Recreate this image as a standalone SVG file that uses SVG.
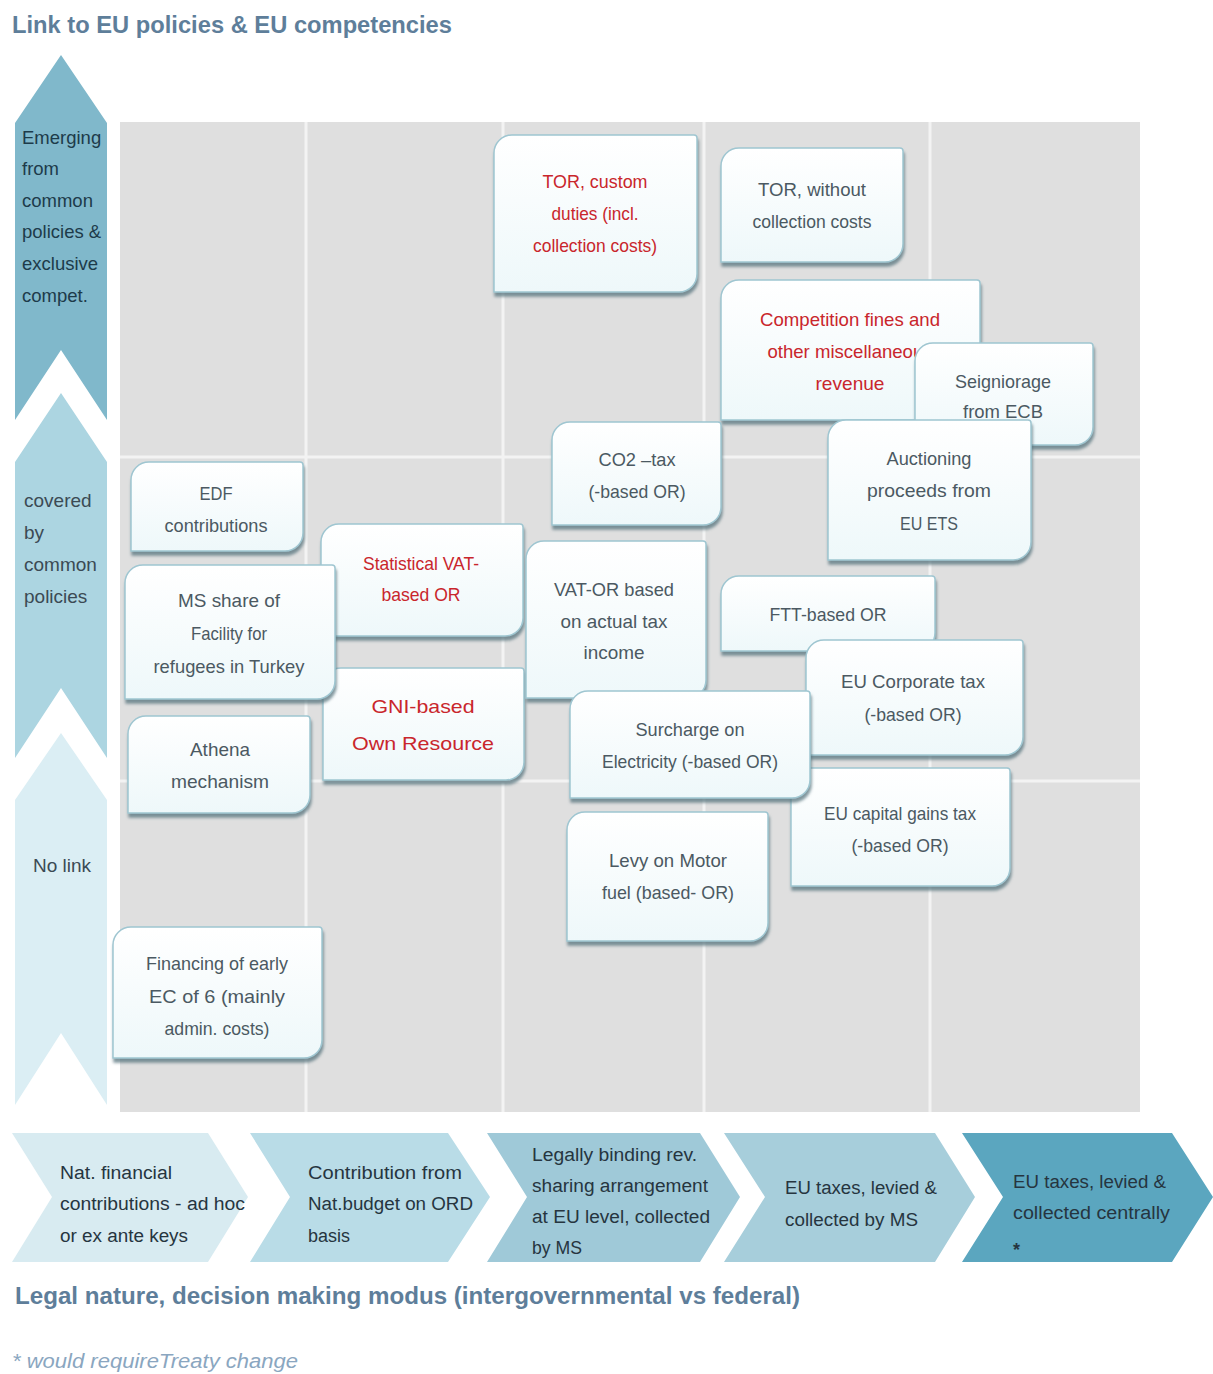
<svg xmlns="http://www.w3.org/2000/svg" width="1213" height="1374" viewBox="0 0 1213 1374">
<defs>
<linearGradient id="boxg" x1="0" y1="0" x2="0" y2="1">
<stop offset="0" stop-color="#ffffff"/>
<stop offset="1" stop-color="#eef8fa"/>
</linearGradient>
<filter id="sh" x="-10%" y="-10%" width="125%" height="130%">
<feDropShadow dx="1" dy="4" stdDeviation="1.5" flood-color="#56737d" flood-opacity="0.75"/>
</filter>
<style>
text{font-family:"Liberation Sans",Arial,sans-serif}
.nb{fill:url(#boxg);stroke:#9fc6d1;stroke-width:1.5;filter:url(#sh)}
.g{fill:#4b5962;font-size:19px;text-anchor:middle}
.r{fill:#c9262c;font-size:19px;text-anchor:middle}
.grid{stroke:#f3f3f3;stroke-width:3}
.cv{fill:#26353f;font-size:18px}
.ax1{fill:#1d3b4a;font-size:18.5px}
.ax2{fill:#3b4a54;font-size:19px}
.ttl{fill:#5e7e9a;font-size:24px;font-weight:bold}
</style>
</defs>
<rect width="1213" height="1374" fill="#ffffff"/>

<!-- title -->
<text class="ttl" x="12" y="33" textLength="440" lengthAdjust="spacingAndGlyphs">Link to EU policies &amp; EU competencies</text>

<!-- vertical axis arrows -->
<g id="axis-vertical">
<polygon points="61,55 107,123 107,420 61,350 15,420 15,123" fill="#80b8cb"/>
<polygon points="61,393 107,462 107,758 61,688 15,758 15,462" fill="#acd5e1"/>
<polygon points="61,733 107,800 107,1105 61,1033 15,1105 15,800" fill="#dbeef4"/>
<text class="ax1" x="22" y="144">Emerging</text>
<text class="ax1" x="22" y="175">from</text>
<text class="ax1" x="22" y="207">common</text>
<text class="ax1" x="22" y="238">policies &amp;</text>
<text class="ax1" x="22" y="270">exclusive</text>
<text class="ax1" x="22" y="302">compet.</text>
<text class="ax2" x="24" y="507">covered</text>
<text class="ax2" x="24" y="539">by</text>
<text class="ax2" x="24" y="571">common</text>
<text class="ax2" x="24" y="603">policies</text>
<text class="ax2" x="33" y="872">No link</text>
</g>

<!-- grid -->
<g id="grid">
<rect x="120" y="122" width="1020" height="990" fill="#dfdfdf"/>
<line class="grid" x1="306" y1="122" x2="306" y2="1112"/>
<line class="grid" x1="503" y1="122" x2="503" y2="1112"/>
<line class="grid" x1="704" y1="122" x2="704" y2="1112"/>
<line class="grid" x1="930" y1="122" x2="930" y2="1112"/>
<line class="grid" x1="120" y1="457" x2="1140" y2="457"/>
<line class="grid" x1="120" y1="781" x2="1140" y2="781"/>
</g>

<g id="connectors"/>

<!-- nodes -->
<g id="node-tor-custom">
<path class="nb" d="M512,135 H694 A3,3 0 0 1 697,138 V274 A18,18 0 0 1 679,292 H494 V153 A18,18 0 0 1 512,135 Z"/>
<text class="r" x="595" y="188" textLength="105" lengthAdjust="spacingAndGlyphs">TOR, custom</text>
<text class="r" x="595" y="220" textLength="87" lengthAdjust="spacingAndGlyphs">duties (incl.</text>
<text class="r" x="595" y="252" textLength="124" lengthAdjust="spacingAndGlyphs">collection costs)</text>
</g>
<g id="node-tor-without">
<path class="nb" d="M739,148 H900 A3,3 0 0 1 903,151 V244 A18,18 0 0 1 885,262 H721 V166 A18,18 0 0 1 739,148 Z"/>
<text class="g" x="812" y="196" textLength="108" lengthAdjust="spacingAndGlyphs">TOR, without</text>
<text class="g" x="812" y="228" textLength="119" lengthAdjust="spacingAndGlyphs">collection costs</text>
</g>
<g id="node-competition">
<path class="nb" d="M739,280 H977 A3,3 0 0 1 980,283 V402 A18,18 0 0 1 962,420 H721 V298 A18,18 0 0 1 739,280 Z"/>
<text class="r" x="850" y="326" font-size="20" textLength="180" lengthAdjust="spacingAndGlyphs">Competition fines and</text>
<text class="r" x="850" y="358" font-size="20" textLength="165" lengthAdjust="spacingAndGlyphs">other miscellaneous</text>
<text class="r" x="850" y="390" font-size="20" textLength="69" lengthAdjust="spacingAndGlyphs">revenue</text>
</g>
<g id="node-seigniorage">
<path class="nb" d="M933,343 H1090 A3,3 0 0 1 1093,346 V427 A18,18 0 0 1 1075,445 H915 V361 A18,18 0 0 1 933,343 Z"/>
<text class="g" x="1003" y="388" textLength="96" lengthAdjust="spacingAndGlyphs">Seigniorage</text>
<text class="g" x="1003" y="418" textLength="80" lengthAdjust="spacingAndGlyphs">from ECB</text>
</g>
<g id="node-co2">
<path class="nb" d="M570,422 H718 A3,3 0 0 1 721,425 V507 A18,18 0 0 1 703,525 H552 V440 A18,18 0 0 1 570,422 Z"/>
<text class="g" x="637" y="466" textLength="77" lengthAdjust="spacingAndGlyphs">CO2 –tax</text>
<text class="g" x="637" y="498" textLength="97" lengthAdjust="spacingAndGlyphs">(-based OR)</text>
</g>
<g id="node-auctioning">
<path class="nb" d="M846,420 H1028 A3,3 0 0 1 1031,423 V542 A18,18 0 0 1 1013,560 H828 V438 A18,18 0 0 1 846,420 Z"/>
<text class="g" x="929" y="465" textLength="85" lengthAdjust="spacingAndGlyphs">Auctioning</text>
<text class="g" x="929" y="497" textLength="124" lengthAdjust="spacingAndGlyphs">proceeds from</text>
<text class="g" x="929" y="530" textLength="58" lengthAdjust="spacingAndGlyphs">EU ETS</text>
</g>
<g id="node-edf">
<path class="nb" d="M149,462 H300 A3,3 0 0 1 303,465 V533 A18,18 0 0 1 285,551 H131 V480 A18,18 0 0 1 149,462 Z"/>
<text class="g" x="216" y="500" textLength="33" lengthAdjust="spacingAndGlyphs">EDF</text>
<text class="g" x="216" y="532" textLength="103" lengthAdjust="spacingAndGlyphs">contributions</text>
</g>
<g id="node-statistical-vat">
<path class="nb" d="M339,524 H520 A3,3 0 0 1 523,527 V618 A18,18 0 0 1 505,636 H321 V542 A18,18 0 0 1 339,524 Z"/>
<text class="r" x="421" y="570" textLength="116" lengthAdjust="spacingAndGlyphs">Statistical VAT-</text>
<text class="r" x="421" y="601" textLength="79" lengthAdjust="spacingAndGlyphs">based OR</text>
</g>
<g id="node-gni">
<path class="nb" d="M341,668 H521 A3,3 0 0 1 524,671 V762 A18,18 0 0 1 506,780 H323 V686 A18,18 0 0 1 341,668 Z"/>
<text class="r" x="423" y="713" font-size="24" textLength="103" lengthAdjust="spacingAndGlyphs">GNI-based</text>
<text class="r" x="423" y="750" font-size="24" textLength="142" lengthAdjust="spacingAndGlyphs">Own Resource</text>
</g>
<g id="node-ms-share">
<path class="nb" d="M143,565 H332 A3,3 0 0 1 335,568 V681 A18,18 0 0 1 317,699 H125 V583 A18,18 0 0 1 143,565 Z"/>
<text class="g" x="229" y="607" textLength="102" lengthAdjust="spacingAndGlyphs">MS share of</text>
<text class="g" x="229" y="640" textLength="76" lengthAdjust="spacingAndGlyphs">Facility for</text>
<text class="g" x="229" y="673" textLength="151" lengthAdjust="spacingAndGlyphs">refugees in Turkey</text>
</g>
<g id="node-athena">
<path class="nb" d="M146,716 H307 A3,3 0 0 1 310,719 V795 A18,18 0 0 1 292,813 H128 V734 A18,18 0 0 1 146,716 Z"/>
<text class="g" x="220" y="756" textLength="60" lengthAdjust="spacingAndGlyphs">Athena</text>
<text class="g" x="220" y="788" textLength="98" lengthAdjust="spacingAndGlyphs">mechanism</text>
</g>
<g id="node-vat-or">
<path class="nb" d="M544,541 H703 A3,3 0 0 1 706,544 V680 A18,18 0 0 1 688,698 H526 V559 A18,18 0 0 1 544,541 Z"/>
<text class="g" x="614" y="596" textLength="120" lengthAdjust="spacingAndGlyphs">VAT-OR based</text>
<text class="g" x="614" y="628" textLength="107" lengthAdjust="spacingAndGlyphs">on actual tax</text>
<text class="g" x="614" y="659" textLength="61" lengthAdjust="spacingAndGlyphs">income</text>
</g>
<g id="node-ftt">
<path class="nb" d="M739,576 H932 A3,3 0 0 1 935,579 V633 A18,18 0 0 1 917,651 H721 V594 A18,18 0 0 1 739,576 Z"/>
<text class="g" x="828" y="621" textLength="117" lengthAdjust="spacingAndGlyphs">FTT-based OR</text>
</g>
<g id="node-eu-corporate">
<path class="nb" d="M824,640 H1020 A3,3 0 0 1 1023,643 V737 A18,18 0 0 1 1005,755 H806 V658 A18,18 0 0 1 824,640 Z"/>
<text class="g" x="913" y="688" textLength="144" lengthAdjust="spacingAndGlyphs">EU Corporate tax</text>
<text class="g" x="913" y="721" textLength="97" lengthAdjust="spacingAndGlyphs">(-based OR)</text>
</g>
<g id="node-eu-capital">
<path class="nb" d="M809,768 H1007 A3,3 0 0 1 1010,771 V868 A18,18 0 0 1 992,886 H791 V786 A18,18 0 0 1 809,768 Z"/>
<text class="g" x="900" y="820" textLength="152" lengthAdjust="spacingAndGlyphs">EU capital gains tax</text>
<text class="g" x="900" y="852" textLength="97" lengthAdjust="spacingAndGlyphs">(-based OR)</text>
</g>
<g id="node-surcharge">
<path class="nb" d="M588,691 H807 A3,3 0 0 1 810,694 V780 A18,18 0 0 1 792,798 H570 V709 A18,18 0 0 1 588,691 Z"/>
<text class="g" x="690" y="736" textLength="109" lengthAdjust="spacingAndGlyphs">Surcharge on</text>
<text class="g" x="690" y="768" textLength="176" lengthAdjust="spacingAndGlyphs">Electricity (-based OR)</text>
</g>
<g id="node-levy">
<path class="nb" d="M585,812 H765 A3,3 0 0 1 768,815 V923 A18,18 0 0 1 750,941 H567 V830 A18,18 0 0 1 585,812 Z"/>
<text class="g" x="668" y="867" textLength="118" lengthAdjust="spacingAndGlyphs">Levy on Motor</text>
<text class="g" x="668" y="899" textLength="132" lengthAdjust="spacingAndGlyphs">fuel (based- OR)</text>
</g>
<g id="node-financing">
<path class="nb" d="M131,927 H319 A3,3 0 0 1 322,930 V1040 A18,18 0 0 1 304,1058 H113 V945 A18,18 0 0 1 131,927 Z"/>
<text class="g" x="217" y="970" textLength="142" lengthAdjust="spacingAndGlyphs">Financing of early</text>
<text class="g" x="217" y="1003" textLength="136" lengthAdjust="spacingAndGlyphs">EC of 6  (mainly</text>
<text class="g" x="217" y="1035" textLength="105" lengthAdjust="spacingAndGlyphs">admin. costs)</text>
</g>

<!-- horizontal axis chevrons -->
<g id="axis-horizontal">
<polygon points="12,1133 208,1133 248,1197 208,1262 12,1262 52,1197" fill="#d8ebf1"/>
<polygon points="250,1133 448,1133 490,1197 448,1262 250,1262 290,1197" fill="#b9dce7"/>
<polygon points="487,1133 700,1133 740,1197 700,1262 487,1262 527,1197" fill="#9fc9d8"/>
<polygon points="724,1133 935,1133 975,1197 935,1262 724,1262 765,1197" fill="#a7cedb"/>
<polygon points="962,1133 1172,1133 1213,1197 1172,1262 962,1262 1003,1197" fill="#5ba6bf"/>
<text class="cv" x="60" y="1179" textLength="112" lengthAdjust="spacingAndGlyphs">Nat. financial</text>
<text class="cv" x="60" y="1210" textLength="185" lengthAdjust="spacingAndGlyphs">contributions - ad hoc</text>
<text class="cv" x="60" y="1242" textLength="128" lengthAdjust="spacingAndGlyphs">or ex ante keys</text>
<text class="cv" x="308" y="1179" textLength="154" lengthAdjust="spacingAndGlyphs">Contribution from</text>
<text class="cv" x="308" y="1210" textLength="165" lengthAdjust="spacingAndGlyphs">Nat.budget on ORD</text>
<text class="cv" x="308" y="1242" textLength="42" lengthAdjust="spacingAndGlyphs">basis</text>
<text class="cv" x="532" y="1161" textLength="165" lengthAdjust="spacingAndGlyphs">Legally binding rev.</text>
<text class="cv" x="532" y="1192" textLength="176" lengthAdjust="spacingAndGlyphs">sharing arrangement</text>
<text class="cv" x="532" y="1223" textLength="178" lengthAdjust="spacingAndGlyphs">at EU level, collected</text>
<text class="cv" x="532" y="1254" textLength="50" lengthAdjust="spacingAndGlyphs">by MS</text>
<text class="cv" x="785" y="1194" textLength="152" lengthAdjust="spacingAndGlyphs">EU taxes, levied &amp;</text>
<text class="cv" x="785" y="1226" textLength="133" lengthAdjust="spacingAndGlyphs">collected by MS</text>
<text class="cv" x="1013" y="1188" textLength="153" lengthAdjust="spacingAndGlyphs">EU taxes, levied &amp;</text>
<text class="cv" x="1013" y="1219" textLength="157" lengthAdjust="spacingAndGlyphs">collected centrally</text>
<text class="cv" x="1013" y="1256" font-size="22" font-weight="bold">*</text>
</g>

<text class="ttl" x="15" y="1304" textLength="785" lengthAdjust="spacingAndGlyphs">Legal nature, decision making modus (intergovernmental vs federal)</text>
<text x="12" y="1368" fill="#8aa6c0" font-size="20" font-style="italic" textLength="286" lengthAdjust="spacingAndGlyphs">* would requireTreaty change</text>
</svg>
